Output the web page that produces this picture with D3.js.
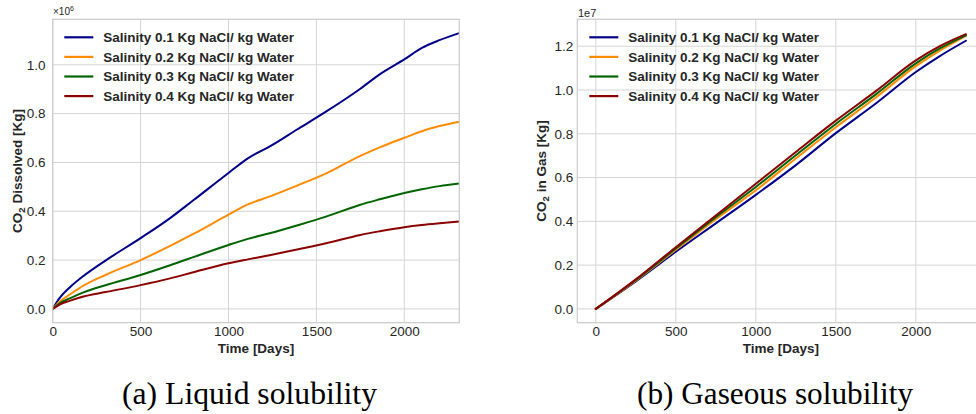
<!DOCTYPE html>
<html>
<head>
<meta charset="utf-8">
<script src="https://cdn.jsdelivr.net/npm/d3@7"></script>
<style>
  html, body { margin: 0; padding: 0; background: #ffffff; }
  svg { display: block; }
</style>
</head>
<body>
<svg id="chart" width="976" height="414"></svg>
<script>
// ---------------- DATA ----------------
const seriesLabels = [
  "Salinity 0.1 Kg NaCl/ kg Water",
  "Salinity 0.2 Kg NaCl/ kg Water",
  "Salinity 0.3 Kg NaCl/ kg Water",
  "Salinity 0.4 Kg NaCl/ kg Water"
];
const seriesColors = ["#00008b", "#ff8c00", "#006400", "#8b0000"];

// (a) CO2 dissolved, x 10^6 kg
const liquidDays = [0, 40, 100, 175, 300, 500, 668, 800, 1000, 1110, 1240, 1390, 1550, 1750, 1860, 2000, 2100, 2200, 2313];
const liquid01 = [0, 0.045, 0.090, 0.135, 0.198, 0.290, 0.372, 0.445, 0.557, 0.617, 0.668, 0.735, 0.806, 0.902, 0.961, 1.022, 1.069, 1.101, 1.130];
const liquid02 = [0, 0.030, 0.060, 0.095, 0.139, 0.200, 0.258, 0.307, 0.386, 0.428, 0.462, 0.505, 0.553, 0.627, 0.662, 0.701, 0.728, 0.749, 0.767];
const liquid03 = [0, 0.023, 0.044, 0.068, 0.097, 0.139, 0.179, 0.212, 0.262, 0.287, 0.311, 0.342, 0.377, 0.427, 0.449, 0.475, 0.490, 0.503, 0.514];
const liquid04 = [0, 0.018, 0.034, 0.051, 0.069, 0.0975, 0.125, 0.150, 0.187, 0.203, 0.221, 0.243, 0.268, 0.303, 0.318, 0.335, 0.344, 0.351, 0.358];

// (b) CO2 in gas, x 10^7 kg
const gasDays = [0, 250, 500, 750, 1000, 1250, 1500, 1750, 2000, 2150, 2313];
const gas01 = [0, 0.126, 0.261, 0.391, 0.521, 0.657, 0.803, 0.938, 1.082, 1.155, 1.225];
const gas02 = [0, 0.129, 0.270, 0.410, 0.542, 0.687, 0.830, 0.966, 1.109, 1.180, 1.247];
const gas03 = [0, 0.132, 0.276, 0.419, 0.557, 0.702, 0.845, 0.980, 1.122, 1.190, 1.250];
const gas04 = [0, 0.135, 0.282, 0.427, 0.572, 0.717, 0.860, 0.995, 1.135, 1.200, 1.255];

const xTicks = [0, 500, 1000, 1500, 2000];
const yTicksLiquid = [0, 0.2, 0.4, 0.6, 0.8, 1.0];
const yTicksGas = [0, 0.2, 0.4, 0.6, 0.8, 1.0, 1.2];

// ---------------- DRAW ----------------
const svg = d3.select("#chart");
const FONT = "'Liberation Sans', Arial, sans-serif";
const TEXT = "#262626";
const GRID = "#d4d4d4";
const SPINE = "#cccccc";

function panel(opts) {
  const { left, right, top, bottom, xDomain, yDomain, days, series, yTicks,
          yLabel, yLabelX, tickEnd, legendX, offsetText, offsetX, offsetStyle, id } = opts;
  const x = d3.scaleLinear().domain(xDomain).range([left, right]);
  const y = d3.scaleLinear().domain(yDomain).range([bottom, top]);
  const g = svg.append("g");

  g.append("clipPath").attr("id", "clip" + id).append("rect")
    .attr("x", left).attr("y", top).attr("width", right - left).attr("height", bottom - top);

  // grid
  g.append("g").selectAll("line").data(xTicks).join("line")
    .attr("x1", d => x(d)).attr("x2", d => x(d)).attr("y1", top).attr("y2", bottom)
    .attr("stroke", GRID).attr("stroke-width", 1);
  g.append("g").selectAll("line").data(yTicks).join("line")
    .attr("x1", left).attr("x2", right).attr("y1", d => y(d)).attr("y2", d => y(d))
    .attr("stroke", GRID).attr("stroke-width", 1);

  // axes (labels only, no tick marks)
  const xAxis = d3.axisBottom(x).tickValues(xTicks).tickSize(0).tickPadding(4).tickFormat(d3.format("d"));
  const xa = g.append("g").attr("transform", `translate(0,${bottom})`).call(xAxis);
  xa.select(".domain").remove();
  xa.selectAll("text").attr("font-family", FONT).attr("font-size", "13.5px").attr("fill", TEXT);

  const yAxis = d3.axisLeft(y).tickValues(yTicks).tickSize(0).tickPadding(0).tickFormat(d3.format(".1f"));
  const ya = g.append("g").attr("transform", `translate(${tickEnd},0)`).call(yAxis);
  ya.select(".domain").remove();
  ya.selectAll("text").attr("font-family", FONT).attr("font-size", "13.5px").attr("fill", TEXT);

  // lines
  const line = d3.line().x((d, i) => x(days[i])).y(d => y(d)).curve(d3.curveMonotoneX);
  g.append("g").attr("clip-path", `url(#clip${id})`)
    .selectAll("path").data(series).join("path")
    .attr("d", d => line(d)).attr("fill", "none")
    .attr("stroke", (d, i) => seriesColors[i]).attr("stroke-width", 2)
    .attr("stroke-linejoin", "round").attr("stroke-linecap", "round");

  // spines
  g.append("rect").attr("x", left).attr("y", top).attr("width", right - left).attr("height", bottom - top)
    .attr("fill", "none").attr("stroke", SPINE).attr("stroke-width", 1.25);

  // axis labels
  g.append("text").attr("x", (left + right) / 2).attr("y", 353)
    .attr("text-anchor", "middle").attr("font-family", FONT).attr("font-weight", "bold")
    .attr("font-size", "13.5px").attr("fill", TEXT).text("Time [Days]");

  const yl = g.append("text")
    .attr("transform", `translate(${yLabelX},${(top + bottom) / 2}) rotate(-90)`)
    .attr("text-anchor", "middle").attr("font-family", FONT).attr("font-weight", "bold")
    .attr("font-size", "13.5px").attr("fill", TEXT);
  yl.append("tspan").text("CO");
  yl.append("tspan").attr("font-size", "9.5px").attr("dy", 3).text("2");
  yl.append("tspan").attr("dy", -3).text(yLabel);

  // offset text
  const ot = g.append("text").attr("x", offsetX).attr("y", offsetStyle.y)
    .attr("font-family", FONT).attr("font-size", offsetStyle.size).attr("fill", TEXT);
  if (offsetText === "x10^6") {
    ot.append("tspan").text("\u00d710");
    ot.append("tspan").attr("font-size", "7px").attr("dy", -4).text("6");
  } else {
    ot.text(offsetText);
  }

  // legend
  const rows = [37.3, 56.9, 76.5, 96.1];
  const lg = g.append("g");
  seriesLabels.forEach((lab, i) => {
    lg.append("line").attr("x1", legendX).attr("x2", legendX + 29)
      .attr("y1", rows[i]).attr("y2", rows[i])
      .attr("stroke", seriesColors[i]).attr("stroke-width", 2.2);
    lg.append("text").attr("x", legendX + 39).attr("y", rows[i]).attr("dy", "0.36em")
      .attr("font-family", FONT).attr("font-weight", "bold").attr("font-size", "13.5px")
      .attr("fill", TEXT).text(lab);
  });
}

panel({
  id: "a", left: 52.7, right: 459.3, top: 19.3, bottom: 322.7,
  xDomain: [0, 2313], yDomain: [-0.0565, 1.1865],
  days: liquidDays, series: [liquid01, liquid02, liquid03, liquid04],
  yTicks: yTicksLiquid, yLabel: " Dissolved [Kg]", yLabelX: 21.5, tickEnd: 45.5,
  legendX: 64.3, offsetText: "x10^6", offsetX: 53, offsetStyle: { y: 15, size: "10px" }
});

panel({
  id: "b", left: 577.3, right: 984.4, top: 19.3, bottom: 322.7,
  xDomain: [-115.6, 2428.6], yDomain: [-0.063, 1.323],
  days: gasDays, series: [gas01, gas02, gas03, gas04],
  yTicks: yTicksGas, yLabel: " in Gas [Kg]", yLabelX: 546, tickEnd: 573.3,
  legendX: 589.3, offsetText: "1e7", offsetX: 578, offsetStyle: { y: 16.5, size: "11px" }
});

// captions
function caption(txt, cx, targetW) {
  const t = svg.append("text").attr("x", cx).attr("y", 404)
    .attr("text-anchor", "middle").attr("font-family", "'Liberation Serif', 'Times New Roman', serif")
    .attr("font-size", "24px").attr("fill", "#000").text(txt);
  const w = t.node().getComputedTextLength();
  t.attr("font-size", (24 * targetW / w).toFixed(2) + "px");
}
caption("(a) Liquid solubility", 249.5, 255);
caption("(b) Gaseous solubility", 775, 276);
</script>
</body>
</html>
